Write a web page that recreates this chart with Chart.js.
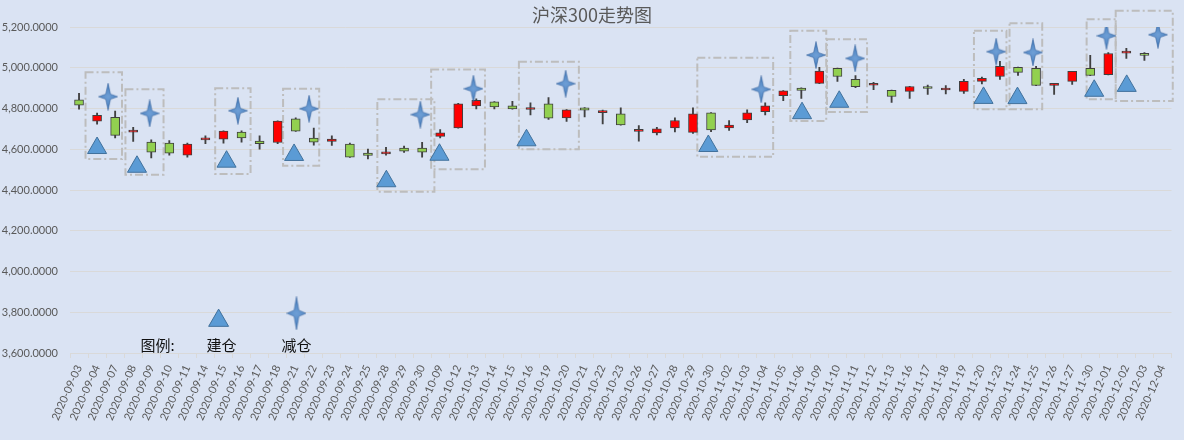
<!DOCTYPE html>
<html>
<head>
<meta charset="utf-8">
<title>沪深300走势图</title>
<script src="https://cdn.jsdelivr.net/npm/chart.js@4.4.1/dist/chart.umd.min.js"></script>
<style>
  html, body { margin: 0; padding: 0; background: #dae3f3; }
  #wrap { width: 1184px; height: 440px; }
</style>
</head>
<body>
<div id="wrap"><canvas id="kline" width="1184" height="440"></canvas></div>
<script>
// trading days
const dates = [
  '2020-09-03','2020-09-04','2020-09-07','2020-09-08','2020-09-09','2020-09-10','2020-09-11',
  '2020-09-14','2020-09-15','2020-09-16','2020-09-17','2020-09-18','2020-09-21','2020-09-22',
  '2020-09-23','2020-09-24','2020-09-25','2020-09-28','2020-09-29','2020-09-30','2020-10-09',
  '2020-10-12','2020-10-13','2020-10-14','2020-10-15','2020-10-16','2020-10-19','2020-10-20',
  '2020-10-21','2020-10-22','2020-10-23','2020-10-26','2020-10-27','2020-10-28','2020-10-29',
  '2020-10-30','2020-11-02','2020-11-03','2020-11-04','2020-11-05','2020-11-06','2020-11-09',
  '2020-11-10','2020-11-11','2020-11-12','2020-11-13','2020-11-16','2020-11-17','2020-11-18',
  '2020-11-19','2020-11-20','2020-11-23','2020-11-24','2020-11-25','2020-11-26','2020-11-27',
  '2020-11-30','2020-12-01','2020-12-02','2020-12-03','2020-12-04'
];

// OHLC (12-04 has no candle)
const opens = [
  4842, 4738, 4757, 4684, 4635, 4630, 4571, 4646, 4650, 4684, 4640, 4633, 4749, 4655, 4638,
  4625, 4581, 4577, 4606, 4606, 4663, 4705, 4813, 4833, 4813, 4795, 4823, 4754, 4803, 4780,
  4774, 4688, 4680, 4705, 4683, 4779, 4705, 4744, 4784, 4863, 4900, 4923, 4997, 4943, 4914,
  4889, 4884, 4908, 4891, 4884, 4933, 4957, 5002, 4997, 4913, 4933, 4997, 4966, 5072, 5070, null
];
const highs = [
  4875, 4777, 4787, 4708, 4646, 4643, 4630, 4666, 4690, 4690, 4666, 4740, 4754, 4704, 4666,
  4630, 4601, 4610, 4616, 4634, 4696, 4825, 4848, 4834, 4835, 4828, 4853, 4795, 4804, 4792,
  4803, 4716, 4708, 4754, 4803, 4780, 4741, 4793, 4828, 4888, 4901, 5002, 4998, 4962, 4928,
  4890, 4909, 4915, 4913, 4943, 4954, 5031, 5003, 5007, 4924, 4983, 5061, 5075, 5095, 5075, null
];
const lows = [
  4797, 4723, 4655, 4638, 4557, 4571, 4561, 4627, 4630, 4635, 4601, 4627, 4688, 4620, 4619,
  4560, 4552, 4571, 4584, 4561, 4655, 4704, 4798, 4798, 4797, 4769, 4747, 4737, 4759, 4724,
  4718, 4640, 4670, 4685, 4678, 4686, 4693, 4731, 4769, 4838, 4849, 4922, 4933, 4902, 4893,
  4830, 4849, 4869, 4872, 4874, 4921, 4943, 4962, 4912, 4869, 4918, 4961, 4965, 5046, 5036, null
];
const closes = [
  4816, 4767, 4668, 4694, 4586, 4581, 4625, 4650, 4689, 4655, 4628, 4738, 4689, 4635, 4650,
  4561, 4570, 4580, 4591, 4586, 4680, 4823, 4840, 4808, 4798, 4798, 4752, 4793, 4792, 4784,
  4719, 4691, 4700, 4741, 4774, 4695, 4719, 4779, 4813, 4887, 4889, 4984, 4957, 4907, 4918,
  4859, 4908, 4898, 4895, 4933, 4948, 5007, 4977, 4913, 4923, 4982, 4962, 5070, 5076, 5061, null
];

const yTicks = [3600, 3800, 4000, 4200, 4400, 4600, 4800, 5000, 5200];

// 建仓 / 减仓 markers (x in trading-day index)
const buyX = [1.0, 3.21, 8.17, 11.91, 17.02, 19.96, 24.78, 34.85, 40.04, 42.1, 50.09, 51.97, 56.22, 58.02];
const buyY = [4606, 4514, 4539, 4572, 4443, 4573, 4644, 4616, 4777, 4833, 4852, 4851, 4887, 4911];
const sellX = [1.61, 3.91, 8.8, 12.74, 18.9, 21.84, 26.95, 37.78, 40.81, 42.98, 50.79, 52.83, 56.9, 59.75];
const sellY = [4858, 4776, 4789, 4799, 4770, 4897, 4922, 4894, 5062, 5046, 5079, 5075, 5157, 5162];

// dashed frames round each trade
const boxLeft   = [0.36, 2.57, 7.54, 11.3, 16.52, 19.5, 24.36, 34.24, 39.39, 41.42, 49.56, 51.53, 55.8, 57.41];
const boxRight  = [2.38, 4.68, 9.5, 13.3, 19.68, 22.48, 27.68, 38.44, 41.38, 43.64, 51.36, 53.34, 57.41, 60.57];
const boxTop    = [4978, 4894, 4899, 4897, 4845, 4992, 5030, 5049, 5182, 5140, 5182, 5218, 5238, 5280];
const boxBottom = [4552, 4475, 4479, 4519, 4392, 4502, 4600, 4563, 4739, 4783, 4796, 4796, 4845, 4837];

// legend drawn inside the plot
const legendTitle = '图例:';
const legendLabels = ['建仓', '减仓'];
const legendX = [7.73, 12.04];
const legendY = [3759, 3795];

const latin = 'Lato, "Noto Sans CJK SC", sans-serif';
const cjk = '"Noto Sans CJK SC", sans-serif';

function makeStar(w, h) {
    const c = document.createElement('canvas');
    c.width = w;
    c.height = h;
    const g = c.getContext('2d');
    const cx = w / 2, cy = h / 2, ix = w * 0.12, iy = h * 0.09;
    g.beginPath();
    g.moveTo(cx, 0.5);
    g.lineTo(cx + ix, cy - iy);
    g.lineTo(w - 0.5, cy);
    g.lineTo(cx + ix, cy + iy);
    g.lineTo(cx, h - 0.5);
    g.lineTo(cx - ix, cy + iy);
    g.lineTo(0.5, cy);
    g.lineTo(cx - ix, cy - iy);
    g.closePath();
    const grad = g.createRadialGradient(cx, cy, 0, cx, cy, h / 2);
    grad.addColorStop(0, '#6f9fd6');
    grad.addColorStop(1, '#3f78b8');
    g.fillStyle = grad;
    g.fill();
    g.strokeStyle = 'rgba(50, 95, 155, 0.7)';
    g.lineWidth = 0.8;
    g.stroke();
    return c;
}

const starImg = makeStar(20, 28);
const legendStarImg = makeStar(20, 34);

const decorations = {
    id: 'decorations',
    beforeDraw(chart) {
        const ctx = chart.ctx;
        ctx.save();
        ctx.fillStyle = '#dae3f3';
        ctx.fillRect(0, 0, chart.width, chart.height);
        ctx.restore();
    },
    beforeDatasetsDraw(chart) {
        const ctx = chart.ctx;
        const xs = chart.scales.xs, y = chart.scales.y;
        ctx.save();
        ctx.strokeStyle = '#bdbdbd';
        ctx.lineWidth = 2;
        ctx.setLineDash([8, 3, 2, 3]);
        boxLeft.forEach((l, i) => {
            const x0 = xs.getPixelForValue(l), x1 = xs.getPixelForValue(boxRight[i]);
            const y0 = y.getPixelForValue(boxTop[i]), y1 = y.getPixelForValue(boxBottom[i]);
            ctx.strokeRect(x0, y0, x1 - x0, y1 - y0);
        });
        ctx.restore();
    },
    afterDraw(chart) {
        const ctx = chart.ctx;
        const xs = chart.scales.xs, y = chart.scales.y;
        ctx.save();
        // title
        ctx.fillStyle = '#595959';
        ctx.font = '18px ' + cjk;
        ctx.textAlign = 'center';
        ctx.textBaseline = 'middle';
        ctx.fillText('沪深300走势图', chart.width / 2, 15);
        // legend text
        ctx.fillStyle = '#111';
        ctx.font = '15px ' + cjk;
        const ty = y.getPixelForValue(3640);
        ctx.fillText(legendTitle, xs.getPixelForValue(4.35), ty);
        legendLabels.forEach((t, i) => {
            ctx.fillText(t, xs.getPixelForValue(legendX[i]) + (i === 0 ? 3 : 0), ty);
        });
        ctx.restore();
    }
};

const ctx = document.getElementById('kline').getContext('2d');

new Chart(ctx, {
    type: 'bar',
    data: {
        labels: dates,
        datasets: [
            {
                type: 'scatter',
                label: legendLabels[1],
                xAxisID: 'xs',
                data: sellX.map((x, i) => ({ x: x, y: sellY[i] })),
                pointStyle: starImg,
                pointRadius: 10
            },
            {
                type: 'scatter',
                label: legendLabels[0],
                xAxisID: 'xs',
                data: buyX.map((x, i) => ({ x: x, y: buyY[i] })),
                pointStyle: 'triangle',
                pointRadius: 11,
                backgroundColor: '#5b9bd5',
                borderColor: '#41719c',
                borderWidth: 1
            },
            {
                type: 'scatter',
                label: 'legend-star',
                xAxisID: 'xs',
                data: [{ x: legendX[1], y: legendY[1] }],
                pointStyle: legendStarImg,
                pointRadius: 10
            },
            {
                type: 'scatter',
                label: 'legend-triangle',
                xAxisID: 'xs',
                data: [{ x: legendX[0], y: legendY[0] }],
                pointStyle: 'triangle',
                pointRadius: 11.5,
                backgroundColor: '#5b9bd5',
                borderColor: '#41719c',
                borderWidth: 1
            },
            {
                label: 'body',
                data: opens.map((o, i) => o == null ? null : [o, closes[i]]),
                backgroundColor: opens.map((o, i) => closes[i] >= o ? '#ff0000' : '#92d050'),
                borderColor: '#404040',
                borderWidth: 1,
                borderSkipped: false,
                barThickness: 9,
                minBarLength: 2,
                grouped: false
            },
            {
                label: 'wick',
                data: lows.map((l, i) => l == null ? null : [l, highs[i]]),
                backgroundColor: '#404040',
                borderWidth: 0,
                barThickness: 1.2,
                grouped: false
            }
        ]
    },
    options: {
        responsive: false,
        animation: false,
        layout: { padding: { top: 27, right: 8, left: 0, bottom: 0 } },
        plugins: {
            legend: { display: false },
            tooltip: { enabled: false },
            title: { display: false }
        },
        scales: {
            x: {
                type: 'category',
                position: 'bottom',
                offset: true,
                grid: { offset: true, drawOnChartArea: false, drawTicks: true, tickLength: 5, color: '#d9d9d9' },
                border: { color: '#d9d9d9' },
                ticks: {
                    autoSkip: false,
                    maxRotation: 66,
                    minRotation: 66,
                    color: '#595959',
                    font: { family: latin, size: 11 },
                    padding: 5
                },
                afterFit(scale) { scale.height = 87; }
            },
            // linear twin of the category axis, used for the trade markers and frames
            xs: {
                type: 'linear',
                position: 'bottom',
                offset: false,
                bounds: 'data',
                min: -0.5,
                max: dates.length - 0.5,
                grid: { display: false, offset: false },
                border: { display: false },
                ticks: { display: false },
                afterFit(scale) { scale.height = 0; }
            },
            y: {
                min: yTicks[0],
                max: yTicks[yTicks.length - 1],
                afterBuildTicks(scale) { scale.ticks = yTicks.map(v => ({ value: v })); },
                grid: { color: '#d9d9d9', drawTicks: false },
                border: { display: false },
                ticks: {
                    color: '#595959',
                    font: { family: latin, size: 11 },
                    padding: 12,
                    callback: v => Number(v).toLocaleString('en-US', { minimumFractionDigits: 4, maximumFractionDigits: 4 })
                },
                afterFit(scale) { scale.width = 70; }
            }
        }
    },
    plugins: [decorations]
});
</script>
</body>
</html>
